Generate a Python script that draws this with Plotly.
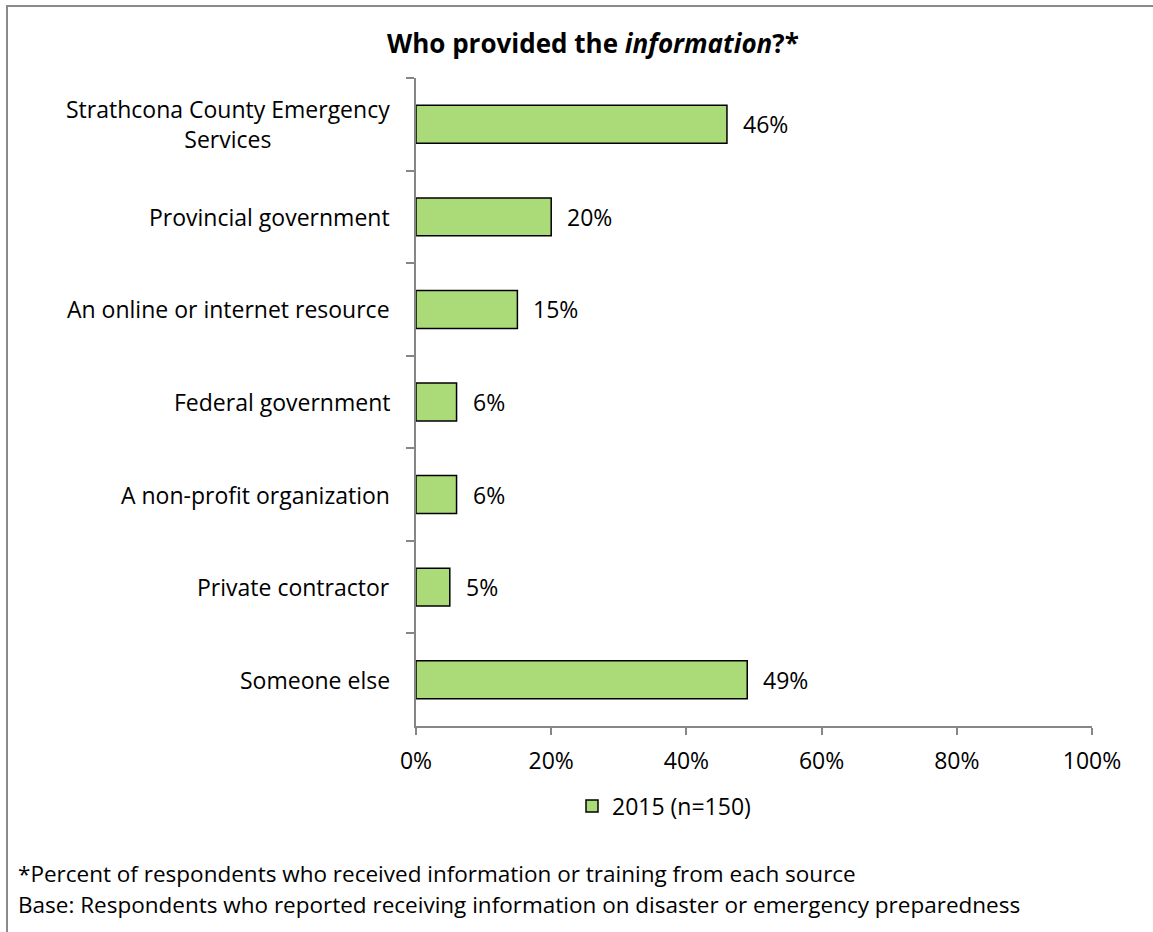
import plotly.graph_objects as go

categories = [
    "Strathcona County Emergency<br>Services",
    "Provincial government",
    "An online or internet resource",
    "Federal government",
    "A non-profit organization",
    "Private contractor",
    "Someone else",
]
values = [46, 20, 15, 6, 6, 5, 49]
value_labels = ["46%", "20%", "15%", "6%", "6%", "5%", "49%"]
series_name = "2015 (n=150)"
title_html = "<b>Who provided the <i>information</i>?*</b>"
footnotes = [
    "*Percent of respondents who received information or training from each source",
    "Base: Respondents who reported receiving information on disaster or emergency preparedness",
]

FONT = "Open Sans"
FS = 23
W, H = 1153, 932
L, R, T, B = 416, 61, 78, 206
pw, ph = W - L - R, H - T - B

def px_x(p):
    return (p - L) / pw

def px_y(p):
    return (H - B - p) / ph

fig = go.Figure()
fig.add_trace(go.Bar(
    x=values, y=categories, orientation="h",
    marker=dict(color="#ABDB78", line=dict(color="#000000", width=1.5)),
    name=series_name, showlegend=True,
))

annotations = []
for c in categories:
    annotations.append(dict(
        x=0, xref="paper", y=c, yref="y", text=c, showarrow=False,
        xanchor="right", yanchor="middle", align="center", xshift=-24,
        font=dict(family=FONT, size=FS, color="#000000"),
    ))
for c, v, t in zip(categories, values, value_labels):
    annotations.append(dict(
        x=v, xref="x", y=c, yref="y", text=t, showarrow=False,
        xanchor="left", yanchor="middle", xshift=14,
        font=dict(family=FONT, size=FS, color="#000000"),
    ))
for i, f in enumerate(footnotes):
    annotations.append(dict(
        x=px_x(16), xref="paper", y=px_y(874 + 30 * i), yref="paper", text=f,
        showarrow=False, xanchor="left", yanchor="middle",
        font=dict(family=FONT, size=22.5, color="#000000"),
    ))

fig.update_layout(
    width=W, height=H,
    margin=dict(l=L, r=R, t=T, b=B),
    paper_bgcolor="white", plot_bgcolor="white",
    font=dict(family=FONT, size=FS, color="#000000"),
    title=dict(text=title_html, x=px_x(593), xref="paper", xanchor="center",
               y=1 - 44 / H, yanchor="middle",
               font=dict(family=FONT, size=26, color="#000000")),
    bargap=0.59,
    showlegend=True,
    legend=dict(orientation="h", x=px_x(572), xanchor="left", y=px_y(806), yanchor="middle",
                itemwidth=30, font=dict(family=FONT, size=FS), bgcolor="rgba(0,0,0,0)"),
    annotations=annotations,
    shapes=[dict(type="rect", xref="paper", yref="paper",
                 x0=px_x(7), x1=px_x(1170), y0=px_y(950), y1=px_y(6),
                 line=dict(color="#8A8A8A", width=2), fillcolor="rgba(0,0,0,0)", layer="below")],
)
fig.update_xaxes(range=[0, 100], dtick=20, ticksuffix="%", showline=True, linecolor="#868686",
                 linewidth=1.5, ticks="outside", ticklen=7, tickcolor="#868686", tickwidth=1.5,
                 showgrid=False, zeroline=False, ticklabelstandoff=7,
                 tickfont=dict(family=FONT, size=FS, color="#000000"))
fig.update_yaxes(categoryorder="array", categoryarray=categories, autorange="reversed",
                 showline=True, linecolor="#868686", linewidth=1.5, ticks="outside",
                 tickson="boundaries", ticklen=8, tickcolor="#868686", tickwidth=1.5,
                 showticklabels=False, showgrid=False, zeroline=False)

fig.write_html("out.html")
